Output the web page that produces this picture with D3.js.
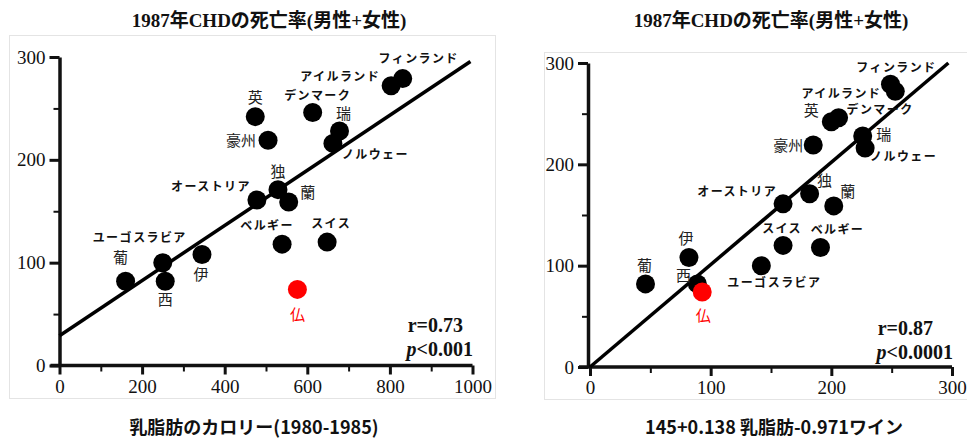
<!DOCTYPE html>
<html>
<head>
<meta charset="utf-8">
<script src="https://cdn.jsdelivr.net/npm/d3@7"></script>
<style>
  body { margin: 0; background: #fff; }
  svg { display: block; }
  .tick text { font-family: 'Liberation Serif', serif; font-size: 19px; fill: #111; }
  .kata { font-family: 'Noto Sans CJK JP', sans-serif; font-weight: 700; font-size: 12px; letter-spacing: 1.4px; fill: #111; }
  .kanji { font-family: 'Noto Sans CJK JP', sans-serif; font-weight: 400; font-size: 15px; fill: #222; }
  .title { font-family: 'Liberation Serif', 'Noto Sans CJK JP', serif; font-weight: 700; font-size: 19px; fill: #111; }
  .xlabel { font-family: 'Noto Sans CJK JP', sans-serif; font-weight: 700; font-size: 18px; fill: #111; }
  .stat { font-family: 'Liberation Serif', serif; font-weight: 700; font-size: 20px; fill: #111; }
</style>
</head>
<body>
<div id="chart"></div>
<script>
// countries (same order in every array)
const countries = ['葡', 'ユーゴスラビア', '西', '伊', 'オーストリア', '独', '蘭', '英', '豪州',
  'デンマーク', '瑞', 'ノルウェー', 'アイルランド', 'フィンランド', 'ベルギー', 'スイス', '仏'];
// 1987 CHD mortality (men + women)
const chdDeaths = [82, 100, 82, 108, 161, 171, 159, 242, 219, 246, 228, 216, 272, 279, 118, 120, 74];
// left panel x: milk fat calories 1980-1985
const milkFat = [160, 250, 256, 345, 478, 529, 555, 474, 505, 613, 678, 662, 803, 831, 539, 648, 576];
// right panel x: 145 + 0.138 milk fat - 0.971 wine
const predicted = [46, 142, 89, 82, 160, 182, 202, 200, 185, 206, 226, 228, 253, 249, 191, 160, 93];
const highlight = '仏';

const leftTicks = [0, 200, 400, 600, 800, 1000];
const leftMinor = [100, 300, 500, 700, 900];
const rightTicks = [0, 100, 200, 300];
const rightMinor = [50, 150, 250];
const yTicks = [0, 100, 200, 300];
const yMinor = [50, 150, 250];

// regression lines [intercept, slope, x end]
const fitLeft = [29, 0.268, 995];
const fitRight = [0, 1.01, 297];

const titleText = '1987年CHDの死亡率(男性+女性)';
const xTitleLeft = '乳脂肪のカロリー(1980-1985)';
const xTitleRight = '145+0.138 乳脂肪-0.971ワイン';
const statsLeft = ['r=0.73', '<0.001'];
const statsRight = ['r=0.87', '<0.0001'];

// label placement relative to each point: [dx, dy, anchor]
const labelsLeft = {
  '葡': [-5, -23, 'middle'], 'ユーゴスラビア': [-23, -25, 'middle'], '西': [0, 19, 'middle'],
  '伊': [-1, 20, 'middle'], 'オーストリア': [-6, -13, 'end'], '独': [0, -18, 'middle'],
  '蘭': [19, -9, 'middle'], '英': [0, -19, 'middle'], '豪州': [-12, 0, 'end'],
  'デンマーク': [5, -17, 'middle'], '瑞': [4, -17, 'middle'], 'ノルウェー': [9, 11, 'start'],
  'アイルランド': [-11, -9, 'end'], 'フィンランド': [16, -20, 'middle'], 'ベルギー': [-15, -18, 'middle'],
  'スイス': [4, -18, 'middle'], '仏': [0, 25, 'middle']
};
const labelsRight = {
  '葡': [-1, -18, 'middle'], 'ユーゴスラビア': [13, 17, 'middle'], '西': [-14, -8, 'middle'],
  '伊': [-3, -19, 'middle'], 'オーストリア': [-6, -12, 'end'], '独': [15, -13, 'middle'],
  '蘭': [14, -14, 'middle'], '英': [-20, -11, 'middle'], '豪州': [-10, 1, 'end'],
  'デンマーク': [8, -8, 'start'], '瑞': [21, -1, 'middle'], 'ノルウェー': [5, 9, 'start'],
  'アイルランド': [-14, 2, 'end'], 'フィンランド': [6, -16, 'middle'], 'ベルギー': [17, -18, 'middle'],
  'スイス': [-1, -17, 'middle'], '仏': [1, 24, 'middle']
};

const width = 967;
const height = 441;

const svg = d3.select('#chart')
  .append('svg')
  .attr('width', width)
  .attr('height', height);

svg.append('rect').attr('width', width).attr('height', height).attr('fill', '#fff');

function drawPanel(opt) {
  const g = svg.append('g');

  g.append('rect')
    .attr('x', opt.frame[0]).attr('y', opt.frame[1])
    .attr('width', opt.frame[2]).attr('height', opt.frame[3])
    .attr('fill', 'none').attr('stroke', '#e4e4e4');

  const x = d3.scaleLinear().domain(opt.xDomain).range(opt.xRange);
  const y = d3.scaleLinear().domain([0, 300]).range(opt.yRange);

  // minor ticks
  g.append('g')
    .attr('transform', `translate(0,${y(0)})`)
    .call(d3.axisBottom(x).tickValues(opt.xMinor).tickSize(6).tickFormat(''))
    .call(a => a.select('.domain').remove())
    .selectAll('line').attr('stroke', '#111').attr('stroke-width', 2);
  g.append('g')
    .attr('transform', `translate(${opt.yAxisX},0)`)
    .call(d3.axisLeft(y).tickValues(yMinor).tickSize(6).tickFormat(''))
    .call(a => a.select('.domain').remove())
    .selectAll('line').attr('stroke', '#111').attr('stroke-width', 2);

  const xAxis = g.append('g')
    .attr('transform', `translate(0,${y(0)})`)
    .call(d3.axisBottom(x).tickValues(opt.xTicks).tickFormat(d3.format('d'))
      .tickSize(9).tickSizeOuter(0).tickPadding(5));
  const yAxis = g.append('g')
    .attr('transform', `translate(${opt.yAxisX},0)`)
    .call(d3.axisLeft(y).tickValues(yTicks).tickFormat(d3.format('d'))
      .tickSize(10).tickSizeOuter(0).tickPadding(4));

  [xAxis, yAxis].forEach(a => {
    a.select('.domain').attr('stroke', '#111').attr('stroke-width', 3.5);
    a.selectAll('.tick line').attr('stroke', '#111').attr('stroke-width', 3);
    a.selectAll('.tick text').attr('font-family', null).attr('font-size', null);
  });
  xAxis.select('.domain').attr('d', `M${opt.yAxisX - 9},0H${x(opt.xDomain[1])}`);

  // regression line
  const fit = opt.fit;
  g.append('line')
    .attr('x1', x(0)).attr('y1', y(fit[0]))
    .attr('x2', x(fit[2])).attr('y2', y(fit[0] + fit[1] * fit[2]))
    .attr('stroke', '#000').attr('stroke-width', 3.5);

  const pts = countries.map((c, i) => ({ name: c, x: opt.xs[i], y: chdDeaths[i] }));

  g.selectAll('circle.pt')
    .data(pts)
    .enter()
    .append('circle')
    .attr('class', 'pt')
    .attr('cx', d => x(d.x))
    .attr('cy', d => y(d.y))
    .attr('r', 9.5)
    .attr('fill', d => d.name === highlight ? '#f00' : '#000');

  g.selectAll('text.lab')
    .data(pts)
    .enter()
    .append('text')
    .attr('class', d => /^[\u4e00-\u9fff]+$/.test(d.name) ? 'lab kanji' : 'lab kata')
    .attr('x', d => x(d.x) + opt.labels[d.name][0])
    .attr('y', d => y(d.y) + opt.labels[d.name][1])
    .attr('dy', '0.35em')
    .attr('text-anchor', d => opt.labels[d.name][2])
    .style('fill', d => d.name === highlight ? '#f00' : null)
    .text(d => d.name);

  g.append('text')
    .attr('class', 'title')
    .attr('x', opt.titleX).attr('y', 20).attr('dy', '0.35em')
    .attr('text-anchor', 'middle')
    .text(titleText);

  g.append('text')
    .attr('class', 'xlabel')
    .attr('x', opt.xTitleX).attr('y', 428).attr('dy', '0.35em')
    .attr('text-anchor', 'middle')
    .text(opt.xTitle);

  g.append('text')
    .attr('class', 'stat')
    .attr('x', opt.statX[0]).attr('y', opt.statY).attr('dy', '0.35em')
    .attr('text-anchor', 'end')
    .text(opt.stats[0]);
  const p = g.append('text')
    .attr('class', 'stat')
    .attr('x', opt.statX[1]).attr('y', opt.statY + 24).attr('dy', '0.35em')
    .attr('text-anchor', 'end');
  p.append('tspan').attr('font-style', 'italic').text('p');
  p.append('tspan').text(opt.stats[1]);
}

drawPanel({
  frame: [9.5, 35.5, 486, 363],
  xDomain: [0, 1000], xRange: [59.5, 472.5], yRange: [365.5, 57],
  yAxisX: 59.5,
  xTicks: leftTicks, xMinor: leftMinor,
  xs: milkFat, fit: fitLeft, labels: labelsLeft,
  titleX: 269, xTitle: xTitleLeft, xTitleX: 254,
  stats: statsLeft, statX: [463, 473], statY: 325
});

drawPanel({
  frame: [544.5, 52.5, 430, 347],
  xDomain: [0, 300], xRange: [590, 952], yRange: [367, 63],
  yAxisX: 588,
  xTicks: rightTicks, xMinor: rightMinor,
  xs: predicted, fit: fitRight, labels: labelsRight,
  titleX: 771, xTitle: xTitleRight, xTitleX: 774,
  stats: statsRight, statX: [933, 953], statY: 328
});
</script>
</body>
</html>
